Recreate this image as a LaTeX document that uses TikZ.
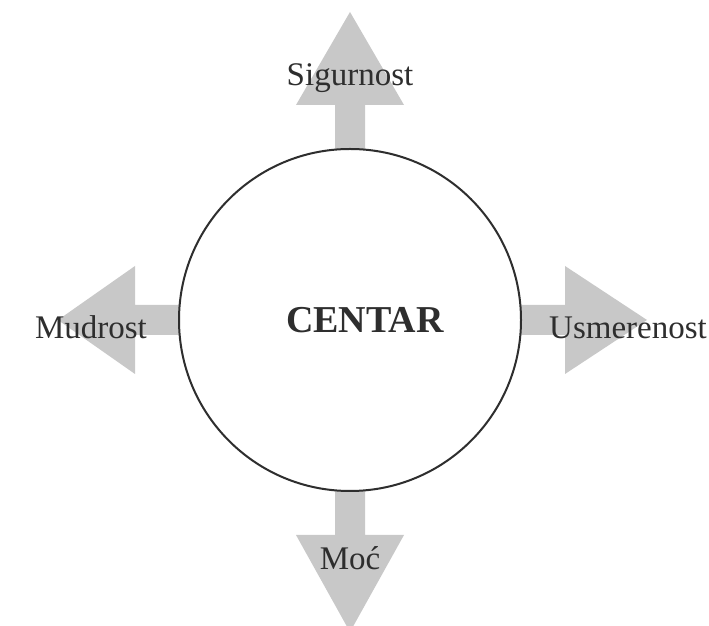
\documentclass[tikz,border=0pt]{standalone}
\usepackage{fontspec}
\setmainfont{Liberation Serif}
\usepackage{tikz}
\usetikzlibrary{calc}
\definecolor{inkc}{HTML}{2E2E2E}
\definecolor{arrowc}{HTML}{C8C8C8}
\tikzset{
  ring/.style={circle,draw=inkc,fill=white,line width=2pt,minimum size=342pt,inner sep=0pt,font=\fontsize{38}{38}\selectfont\bfseries,text=inkc},
  lbl/.style={font=\fontsize{33}{33}\selectfont,text=inkc,inner sep=0pt},
  fat/.style={fill=arrowc,draw=none}
}
\begin{document}
\begin{tikzpicture}[x=1pt,y=1pt]
\useasboundingbox[fill=white] (0,0) rectangle (709,626);
\coordinate (mid) at (350,306);
% four fat arrows leaving the ring: angle / tip distance
\foreach \a/\t in {90/308,180/292,0/297,270/312}{
  \fill[fat,rotate around={\a:(mid)}] ($(mid)+(160,-15)$) -- ($(mid)+(215,-15)$) -- ($(mid)+(215,-54)$)
    -- ($(mid)+(\t,0)$) -- ($(mid)+(215,54)$) -- ($(mid)+(215,15)$) -- ($(mid)+(160,15)$) -- cycle;
}
\node[ring] (centar) at (mid) {\hspace*{30pt}CENTAR};
\node[lbl] (sig) at (350,548) {Sigurnost};
\node[lbl] (mud) at (91,299) {Mudrost};
\node[lbl] (usm) at (628,298) {Usmerenost};
\node[lbl] (moc) at (350,68) {Moć};
\end{tikzpicture}
\end{document}
